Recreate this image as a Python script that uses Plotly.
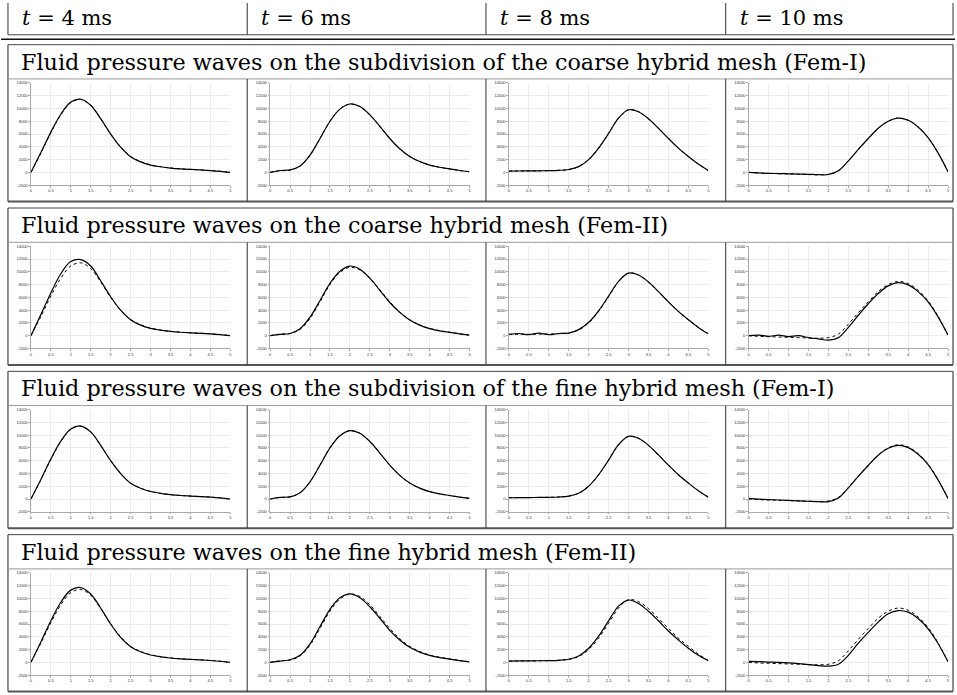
import plotly.graph_objects as go

# ---------------- data ----------------
col_headers = ["<i>t</i> = 4 ms", "<i>t</i> = 6 ms", "<i>t</i> = 8 ms", "<i>t</i> = 10 ms"]
section_titles = [
    "Fluid pressure waves on the subdivision of the coarse hybrid mesh (Fem-I)",
    "Fluid pressure waves on the coarse hybrid mesh (Fem-II)",
    "Fluid pressure waves on the subdivision of the fine hybrid mesh (Fem-I)",
    "Fluid pressure waves on the fine hybrid mesh (Fem-II)",
]
x_pos = [0, 0.25, 0.5, 0.75, 1, 1.25, 1.5, 1.75, 2, 2.25, 2.5, 2.75,
         3, 3.25, 3.5, 3.75, 4, 4.25, 4.5, 4.75, 5]
x_ticks = [0, 0.5, 1, 1.5, 2, 2.5, 3, 3.5, 4, 4.5, 5]
x_tick_text = ["0", "0.5", "1", "1.5", "2", "2.5", "3", "3.5", "4", "4.5", "5"]
y_ticks = [-2000, 0, 2000, 4000, 6000, 8000, 10000, 12000, 14000]
y_tick_text = ["-2000", "0", "2000", "4000", "6000", "8000", "10000", "12000", "14000"]

# reference (dotted) curves, one per time
ref_t4 = [0, 3000, 6200, 9000, 10900, 11400, 10500, 8400, 6000, 4000, 2500, 1700,
          1200, 900, 700, 560, 470, 390, 300, 180, 0]
ref_t6 = [0, 250, 350, 1000, 2700, 5300, 8000, 9900, 10700, 10300, 9000, 7200,
          5300, 3700, 2500, 1700, 1150, 800, 550, 300, 100]
ref_t8 = [200, 220, 230, 250, 270, 320, 450, 900, 2000, 3800, 6100, 8500,
          9800, 9500, 8400, 6900, 5300, 3800, 2500, 1300, 300]
ref_t10 = [0, -100, -150, -200, -250, -300, -350, -380, -300, 250, 1800, 3600,
           5300, 6900, 8000, 8500, 8150, 7100, 5450, 3050, 100]

# computed (solid) curves: coarse Fem-I
coarse_fem1_t4 = [0, 3100, 6300, 9100, 11000, 11450, 10500, 8400, 6000, 3950, 2450, 1650,
                  1150, 880, 680, 550, 460, 380, 290, 170, 0]
coarse_fem1_t6 = [0, 300, 400, 1000, 2700, 5300, 8000, 9900, 10700, 10300, 9000, 7200,
                  5300, 3700, 2500, 1700, 1150, 800, 550, 300, 100]
coarse_fem1_t8 = [200, 220, 230, 250, 270, 320, 450, 900, 2000, 3800, 6100, 8500,
                  9800, 9500, 8400, 6900, 5300, 3800, 2500, 1300, 300]
coarse_fem1_t10 = [0, -80, -150, -180, -220, -260, -300, -350, -330, 250, 1800, 3600,
                   5300, 6900, 8000, 8500, 8150, 7100, 5450, 3050, 100]
# coarse Fem-II
coarse_fem2_t4 = [0, 3300, 6700, 9700, 11600, 11900, 10900, 8600, 6100, 4000, 2500, 1650,
                  1150, 870, 670, 540, 450, 370, 280, 160, 0]
coarse_fem2_t6 = [0, 200, 350, 1100, 2900, 5500, 8200, 10100, 10900, 10400, 9000, 7100,
                  5200, 3650, 2450, 1650, 1100, 760, 520, 280, 80]
coarse_fem2_t8 = [200, 350, 150, 400, 150, 350, 400, 950, 2100, 3900, 6200, 8500,
                  9800, 9500, 8400, 6900, 5300, 3800, 2500, 1300, 300]
coarse_fem2_t10 = [0, 100, -100, 100, -150, 0, -300, -500, -700, -300, 1300, 3200,
                   5000, 6600, 7800, 8300, 7950, 6900, 5300, 2950, 100]
# fine Fem-I
fine_fem1_t4 = [0, 3050, 6250, 9050, 10950, 11420, 10500, 8400, 6000, 3980, 2480, 1680,
                1180, 890, 690, 555, 465, 385, 295, 175, 0]
fine_fem1_t6 = [0, 250, 350, 1000, 2700, 5300, 8000, 9900, 10700, 10300, 9000, 7200,
                5300, 3700, 2500, 1700, 1150, 800, 550, 300, 100]
fine_fem1_t8 = [200, 220, 230, 250, 270, 320, 450, 900, 2000, 3800, 6100, 8500,
                9800, 9500, 8400, 6900, 5300, 3800, 2500, 1300, 300]
fine_fem1_t10 = [100, 0, -80, -150, -220, -280, -350, -420, -420, 150, 1750, 3550,
                 5250, 6850, 7950, 8400, 8050, 7000, 5400, 3000, 100]
# fine Fem-II
fine_fem2_t4 = [0, 3200, 6500, 9400, 11300, 11700, 10700, 8500, 6000, 3900, 2450, 1650,
                1150, 870, 680, 550, 460, 380, 290, 170, 0]
fine_fem2_t6 = [0, 200, 400, 1100, 2900, 5600, 8300, 10100, 10700, 10100, 8700, 6900,
                5000, 3500, 2350, 1600, 1080, 750, 500, 280, 80]
fine_fem2_t8 = [200, 230, 240, 250, 270, 320, 480, 1000, 2200, 4100, 6500, 8800,
                9750, 9200, 8000, 6500, 4900, 3500, 2200, 1100, 250]
fine_fem2_t10 = [150, 100, 50, 0, -80, -200, -350, -500, -600, -300, 1100, 3000,
                 4700, 6300, 7600, 8100, 7850, 6850, 5250, 2950, 100]

ref_curves = [ref_t4, ref_t6, ref_t8, ref_t10]
solid_curves = [
    [coarse_fem1_t4, coarse_fem1_t6, coarse_fem1_t8, coarse_fem1_t10],
    [coarse_fem2_t4, coarse_fem2_t6, coarse_fem2_t8, coarse_fem2_t10],
    [fine_fem1_t4, fine_fem1_t6, fine_fem1_t8, fine_fem1_t10],
    [fine_fem2_t4, fine_fem2_t6, fine_fem2_t8, fine_fem2_t10],
]

# ---------------- layout geometry (pixels) ----------------
W, H = 957, 695
col_left = [7, 247, 486.5, 727]
right_edge = 955
sec_top = [42, 206.5, 371, 535.5]
title_h = 34.5
sec_h = 158
TEXT_FONT = "DejaVu Serif"
TITLE_SIZE = 22.3
HEADER_SIZE = 21


def px(x):
    return x / W


def py(y):
    return 1 - y / H


fig = go.Figure()
layout = dict(
    width=W, height=H, autosize=False,
    margin=dict(l=0, r=0, t=0, b=0, pad=0),
    paper_bgcolor="white", plot_bgcolor="white",
    showlegend=False,
)

shapes = []
annotations = []


def line(x0, y0, x1, y1, color="#333", width=1):
    shapes.append(dict(type="line", xref="paper", yref="paper",
                       x0=px(x0), y0=py(y0), x1=px(x1), y1=py(y1),
                       line=dict(color=color, width=width)))


# header row
line(7, 0, 7, 32)
line(right_edge, 0, right_edge, 32)
for c in range(1, 4):
    line(col_left[c], 0, col_left[c], 32)
line(7, 32, right_edge, 32, "#444", 1)
line(0, 36.5, W, 36.5, "#111", 1.5)
for c in range(4):
    annotations.append(dict(
        x=px(col_left[c] + 12), y=py(15.5), xref="paper", yref="paper",
        text=col_headers[c], showarrow=False, xanchor="left", yanchor="middle",
        font=dict(family=TEXT_FONT, size=HEADER_SIZE, color="black")))

idx = 0
for r in range(4):
    top = sec_top[r]
    tb = top + title_h
    bottom = top + sec_h
    # section frame
    line(7, top, right_edge, top, "#444", 1)
    line(7, top, 7, bottom, "#444", 1.2)
    line(right_edge, top, right_edge, bottom, "#444", 1.2)
    line(7, tb, right_edge, tb, "#999", 1)
    line(7, bottom, right_edge, bottom, "#555", 2)
    for c in range(1, 4):
        line(col_left[c], tb, col_left[c], bottom, "#333", 1)
    annotations.append(dict(
        x=px(18), y=py(top + 17), xref="paper", yref="paper",
        text=section_titles[r], showarrow=False, xanchor="left", yanchor="middle",
        font=dict(family=TEXT_FONT, size=TITLE_SIZE, color="black")))

    for c in range(4):
        idx += 1
        sfx = "" if idx == 1 else str(idx)
        x0 = col_left[c] + 23
        x1 = col_left[c] + 223
        y0 = tb + 4
        y1 = tb + 107
        axis_common = dict(
            tickfont=dict(family="Liberation Sans", size=4, color="#333"),
            showgrid=True, gridcolor="#ececec", gridwidth=1,
            showline=True, linecolor="#aaa", linewidth=1,
            ticks="outside", ticklen=1.5, tickcolor="#aaa",
            zeroline=False, fixedrange=True)
        layout["xaxis" + sfx] = dict(
            domain=[px(x0), px(x1)], anchor="y" + sfx, range=[0, 5],
            tickvals=x_ticks, ticktext=x_tick_text, **axis_common)
        layout["yaxis" + sfx] = dict(
            domain=[py(y1), py(y0)], anchor="x" + sfx, range=[-2000, 14000],
            tickvals=y_ticks, ticktext=y_tick_text, **axis_common)
        fig.add_trace(go.Scatter(
            x=x_pos, y=ref_curves[c], mode="lines",
            line=dict(color="black", width=1, dash="dot", shape="spline", smoothing=1.0),
            xaxis="x" + sfx, yaxis="y" + sfx, hoverinfo="skip"))
        fig.add_trace(go.Scatter(
            x=x_pos, y=solid_curves[r][c], mode="lines",
            line=dict(color="black", width=1.2, shape="spline", smoothing=1.0),
            xaxis="x" + sfx, yaxis="y" + sfx, hoverinfo="skip"))

layout["shapes"] = shapes
layout["annotations"] = annotations
fig.update_layout(**layout)
fig.write_html("out.html",
               config={"displayModeBar": False, "staticPlot": True},
               post_script="document.body.style.margin='0';document.body.style.overflow='hidden';")
